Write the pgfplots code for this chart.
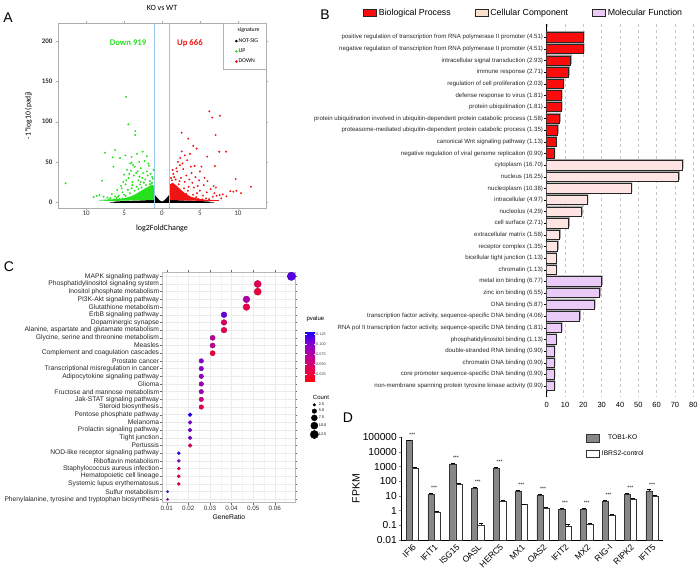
\documentclass[border=0pt]{standalone}
\usepackage{fontspec}
\setmainfont{Liberation Sans}
\newfontfamily\carlito{Carlito}
\usepackage{pgfplots}
\usepackage{pgfplotstable}
\pgfplotsset{compat=1.18}

\newcommand{\fs}[1]{\fontsize{#1}{#1}\selectfont}

\definecolor{vgreen}{RGB}{40,225,30}
\definecolor{vred}{RGB}{240,20,20}
\definecolor{vblue}{RGB}{150,200,240}
\definecolor{bpred}{RGB}{250,12,12}
\definecolor{ccpink}{RGB}{255,228,228}
\definecolor{ccpeach}{RGB}{252,226,204}
\definecolor{mfviolet}{RGB}{234,202,246}
\definecolor{koGrey}{RGB}{135,135,135}

% panel B: GO terms, gene counts
\pgfplotstableread{
i v
0 20
1 20
2 13
3 12
4 9
5 8
6 8
7 7
8 6
9 5
10 4
}\bp
\pgfplotstableread{
i v
11 74
12 72
13 46
14 22
15 19
16 12
17 7
18 6
19 5
20 5
}\cc
\pgfplotstableread{
i v
21 30
22 29
23 26
24 18
25 8
26 5
27 4
28 4
29 4
30 4
}\mf

% panel C: KEGG enrichment (row, gene ratio, pvalue, count)
\pgfplotstableread{
i r p n
0 0.0677 0.115 13
1 0.0521 0.040 10
2 0.0521 0.028 10
3 0.0469 0.080 9
4 0.0469 0.033 9
5 0.0365 0.110 7
6 0.0365 0.045 7
7 0.0365 0.035 7
8 0.03125 0.075 6
9 0.03125 0.070 6
10 0.03125 0.025 6
11 0.0260 0.100 5
12 0.0260 0.100 5
13 0.0260 0.095 5
14 0.0260 0.090 5
15 0.0260 0.090 5
16 0.0260 0.060 5
17 0.0260 0.035 5
18 0.0208 0.130 4
19 0.0208 0.105 4
20 0.0208 0.105 4
21 0.0208 0.105 4
22 0.0208 0.045 4
23 0.0156 0.125 3
24 0.0156 0.095 3
25 0.0156 0.030 3
26 0.0156 0.030 3
27 0.0156 0.030 3
28 0.0104 0.125 2
29 0.0104 0.090 2
}\kegg

\begin{document}
\begin{tikzpicture}
\path[use as bounding box] (0,0) rectangle (700pt,579pt);

% ---------------- A: volcano ----------------
\begin{axis}[
  at={(58pt,371pt)}, anchor=south west, scale only axis,
  width=208pt, height=185pt,
  xmin=-13.7, xmax=13.7, ymin=-7.5, ymax=223,
  xtick={-10,-5,0,5,10}, xticklabels={10,5,0,5,10},
  ytick={0,50,100,150,200}, yticklabels={\textbf{0},\textbf{50},\textbf{100},\textbf{150},\textbf{200}},
  axis line style={gray!65, line width=0.6pt}, tick style={gray!65},
  tick align=outside, major tick length=2pt,
  ticklabel style={font=\carlito\fs{7}, text=black!80},
  xticklabel style={inner sep=1pt},
  title={KO vs WT}, title style={font=\carlito\fs{8}, yshift=3pt},
  xlabel={log2FoldChange}, xlabel style={font=\carlito\fs{8}, yshift=-5pt},
  ylabel={-1*log10 (padj)}, ylabel style={font=\carlito\fs{7.7}, yshift=3pt},
  legend style={at={(1,1)}, anchor=north east, draw=gray!60, fill=white,
    font=\carlito\fs{5.8}, inner xsep=5pt, inner ysep=3.5pt, row sep=2.6pt,
    nodes={inner sep=1.2pt}},
  legend cell align=left,
]
\addplot[fill=black, draw=none, forget plot] coordinates {
 (-7,-0.5) (-6,0.6) (-5,1.2) (-3,1.8) (-1.02,2.6) (-1.02,9.5) (-0.8,7.2) (-0.55,4.5)
 (-0.3,2) (0,0.6) (0.3,2) (0.55,4.5) (0.8,7.2) (1.02,9.5) (1.02,2.6) (3,1.8)
 (5,1.2) (6,0.6) (7,-0.5) (6,-1.2) (-6,-1.2)} -- cycle;
\addplot[fill=vgreen, draw=none, forget plot] coordinates {
 (-1.05,2.2) (-1.05,20) (-1.3,21.5) (-1.8,19) (-2.4,16) (-3,12.5) (-3.6,9) (-4.4,6)
 (-5.2,4.2) (-6.5,3.2) (-8.2,2.6) (-8.3,1.6) (-6,1.4) (-4,1.9) (-2,2.3)} -- cycle;
\addplot[fill=vred, draw=none, forget plot] coordinates {
 (1.05,2.2) (1.05,22) (1.4,24) (1.9,20.5) (2.4,16) (3,11) (3.8,6.5) (4.8,3.8)
 (6,2.6) (7.5,2.2) (7.5,1.4) (5,1.4) (3,1.9) (2,2.2)} -- cycle;
\addplot[only marks, mark=*, mark size=0.75pt, vgreen, forget plot] coordinates {
 (-12.7,23.2) (-4.74,131) (-4.43,96.7) (-3.51,88.4) (-3.55,83.5) (-6.18,64.8) (-7.5,61.4)
 (-2.54,62.6) (-4.83,58) (-5.53,54.8) (-6.5,55.6) (-6.4,44) (-7.9,26.5) (-8.25,8.7)
 (-7.7,6.6) (-7.2,5.5) (-6.8,4.8) (-8.6,7.5) (-9.0,6) (-6.0,5) (-5.6,3.6) (-5.2,4.2)
 (-6.3,3.2) (-7.0,3.0) (-5.8,6.4) (-4.0,49) (-3.8,46) (-4.6,40) (-3.4,36) (-2.97,31.5)
 (-4.2,48) (-3.6,44) (-3.2,38) (-2.8,42) (-2.2,28) (-1.9,33) (-2.6,30) (-3.1,27)
 (-4.4,30) (-5.0,34) (-3.9,25) (-4.8,22) (-5.4,20) (-2.4,24) (-1.6,26) (-1.4,23)
 (-1.2,29) (-2.0,38) (-1.7,45) (-2.3,51) (-3.0,50) (-4.1,39) (-3.7,33) (-2.9,22)
 (-3.3,19) (-4.5,15) (-5.2,12) (-4.0,17) (-3.6,14) (-2.7,18) (-2.1,21) (-1.5,35)
 (-1.1,40) (-1.3,31) (-5.0,9) (-5.7,8) (-4.8,7.5) (-6.2,7) (-4.2,11) (-3.1,16)
 (-2.3,13) (-3.9,21) (-4.7,27) (-5.9,15) (-6.6,10) (-5.3,17) (-3.3,60) (-4.0,56)
 (-2.0,57) (-1.8,48) (-5.1,25) (-4.3,35) (-2.5,36) (-1.3,24) (-1.6,22) (-2.8,25)};
\addplot[only marks, mark=*, mark size=0.75pt, vred, forget plot] coordinates {
 (6.23,113) (6.62,105) (7.63,107.4) (7.06,83.4) (2.59,86.3) (3.46,79) (4.12,70) (4.56,66.5)
 (5.96,56.4) (7.54,62.6) (8.46,62.6) (6.97,44.8) (2.37,46) (5.2,44) (9.7,28.6) (11.7,19)
 (9.4,12.8) (9.8,14) (10.4,11) (9.0,13.5) (7.6,8.7) (6.7,6.6) (8.0,9.5) (7.2,7.8)
 (5.8,4.5) (6.2,3.5) (5.3,3.2) (4.8,4.0) (2.0,38) (2.8,41) (3.2,33) (2.5,30) (1.5,35)
 (1.8,28) (3.6,28) (4.0,24) (3.0,25) (2.2,22) (1.3,27) (1.6,31) (2.7,48) (3.3,52)
 (2.4,55) (3.9,36) (4.4,31) (4.9,27) (5.5,21) (4.2,18) (3.5,19) (2.9,17) (5.0,14)
 (5.9,12) (4.6,11) (6.4,16) (6.8,20) (5.6,30) (3.8,44) (4.3,45) (1.9,42) (2.1,50)
 (1.4,40) (1.2,30) (2.6,63) (3.0,58) (3.7,60) (5.0,38) (6.0,26) (7.1,18) (4.7,20)
 (3.4,14) (2.3,26) (4.1,9) (5.4,8) (6.9,11) (8.5,7) (7.8,4.5) (4.5,6) (3.2,10)};
\addplot[vblue, line width=0.6pt, forget plot] coordinates {(-1,-7.5) (-1,223)};
\addplot[vblue, line width=0.6pt, forget plot] coordinates {(1,-7.5) (1,223)};
\node[font=\carlito\bfseries\fs{8.7}, text=vgreen] at (axis cs:-4.47,198) {Down 919};
\node[font=\carlito\bfseries\fs{8.7}, text=vred] at (axis cs:3.68,198) {Up 666};
\addlegendimage{empty legend}\addlegendentry{\hspace{-1pt}signature}
\addlegendimage{only marks, mark=*, mark size=1.1pt, black}\addlegendentry{NOT-SIG}
\addlegendimage{only marks, mark=*, mark size=1.1pt, vgreen}\addlegendentry{UP}
\addlegendimage{only marks, mark=*, mark size=1.1pt, vred}\addlegendentry{DOWN}
\end{axis}

% ---------------- B: GO bars ----------------
\begin{axis}[
  at={(546.7pt,182.3pt)}, anchor=south west, scale only axis,
  width=146.6pt, height=372.7pt,
  xmin=0, xmax=80, ymin=-1.15, ymax=30.92, y dir=reverse,
  xbar, bar width=9.5pt,
  xtick={0,10,20,30,40,50,60,70,80}, xticklabels={0,10,20,30,40,50,60,70,80},
  ytick={0,...,30},
  yticklabels={
   positive regulation of transcription from RNA polymerase II promoter (4.51),
   negative regulation of transcription from RNA polymerase II promoter (4.51),
   intracellular signal transduction (2.93),
   immune response (2.71),
   regulation of cell proliferation (2.03),
   defense response to virus (1.81),
   protein ubiquitination (1.81),
   protein ubiquitination involved in ubiquitin-dependent protein catabolic process (1.58),
   proteasome-mediated ubiquitin-dependent protein catabolic process (1.35),
   canonical Wnt signaling pathway (1.13),
   negative regulation of viral genome replication (0.90),
   cytoplasm (16.70), nucleus (16.25), nucleoplasm (10.38), intracellular (4.97),
   nucleolus (4.29), cell surface (2.71), extracellular matrix (1.58),
   receptor complex (1.35), bicellular tight junction (1.13), chromatin (1.13),
   metal ion binding (6.77), zinc ion binding (6.55), DNA binding (5.87),
   {transcription factor activity, sequence-specific DNA binding (4.06)},
   {RNA pol II transcription factor activity, sequence-specific DNA binding (1.81)},
   phosphatidylinositol binding (1.13), double-stranded RNA binding (0.90),
   chromatin DNA binding (0.90), core promoter sequence-specific DNA binding (0.90),
   non-membrane spanning protein tyrosine kinase activity (0.90)},
  axis x line*=bottom, axis y line*=left,
  x axis line style={draw=none}, y axis line style={black, line width=0.6pt},
  xtick style={draw=none}, ytick style={black, line width=0.5pt},
  tick align=outside, major tick length=2.5pt,
  xmajorgrids, major grid style={dashed, gray!45, line width=0.4pt},
  yticklabel style={font=\fs{6.1}, text=black!85, inner sep=1pt},
  xticklabel style={font=\fs{7.5}},
  legend style={at={(-1.273,1.051)}, anchor=north west, draw=none, fill=none,
    legend columns=3, font=\fs{8.8},
    /tikz/every even column/.append style={column sep=22pt}},
  legend image code/.code={\draw[#1, line width=0.6pt] (0pt,-3.5pt) rectangle (13pt,4pt);},
]
\addplot[bar shift=1.4pt, fill=gray!70, draw=none, forget plot] table[x expr=\thisrow{v}+0.7, y=i]{\bp};
\addplot[bar shift=1.4pt, fill=gray!70, draw=none, forget plot] table[x expr=\thisrow{v}+0.7, y=i]{\cc};
\addplot[bar shift=1.4pt, fill=gray!70, draw=none, forget plot] table[x expr=\thisrow{v}+0.7, y=i]{\mf};
\addplot[bar shift=0pt, fill=bpred, draw=black!85, line width=0.7pt, forget plot] table[x=v, y=i]{\bp};
\addplot[bar shift=0pt, fill=ccpink, draw=black!85, line width=0.7pt, forget plot] table[x=v, y=i]{\cc};
\addplot[bar shift=0pt, fill=mfviolet, draw=black!85, line width=0.7pt, forget plot] table[x=v, y=i]{\mf};
\addlegendimage{fill=bpred, draw=black!85}\addlegendentry{Biological Process}
\addlegendimage{fill=ccpeach, draw=black!85}\addlegendentry{Cellular Component}
\addlegendimage{fill=mfviolet, draw=black!85}\addlegendentry{Molecular Function}
\end{axis}

% ---------------- C: KEGG dot plot ----------------
\begin{axis}[
  at={(162.3pt,76.3pt)}, anchor=south west, scale only axis,
  width=133pt, height=230.4pt,
  xmin=0.00796, xmax=0.0695, ymin=-0.52, ymax=29.44, y dir=reverse,
  scaled x ticks=false,
  xtick={0.01,0.02,0.03,0.04,0.05,0.06}, xticklabels={0.01,0.02,0.03,0.04,0.05,0.06},
  minor xtick={0.015,0.025,0.035,0.045,0.055,0.065},
  ytick={0,...,29},
  yticklabels={MAPK signaling pathway, Phosphatidylinositol signaling system,
   Inositol phosphate metabolism, PI3K-Akt signaling pathway, Glutathione metabolism,
   ErbB signaling pathway, Dopaminergic synapse,
   {Alanine, aspartate and glutamate metabolism}, {Glycine, serine and threonine metabolism},
   Measles, Complement and coagulation cascades, Prostate cancer,
   Transcriptional misregulation in cancer, Adipocytokine signaling pathway, Glioma,
   Fructose and mannose metabolism, Jak-STAT signaling pathway, Steroid biosynthesis,
   Pentose phosphate pathway, Melanoma, Prolactin signaling pathway, Tight junction,
   Pertussis, NOD-like receptor signaling pathway, Riboflavin metabolism,
   Staphylococcus aureus infection, Hematopoietic cell lineage,
   Systemic lupus erythematosus, Sulfur metabolism,
   {Phenylalanine, tyrosine and tryptophan biosynthesis}},
  xmajorgrids, ymajorgrids, xminorgrids,
  major grid style={gray!16, line width=0.5pt}, minor grid style={gray!9, line width=0.35pt},
  axis line style={gray!55, line width=0.6pt},
  tick style={black!60, line width=0.4pt}, tick align=outside, major tick length=2pt,
  minor tick length=0pt,
  yticklabel style={font=\fs{6.7}, text=black!85, inner xsep=1pt, inner ysep=0pt},
  xticklabel style={font=\fs{6.3}, text=black!80, inner sep=1.5pt},
  xlabel={GeneRatio}, xlabel style={font=\fs{6.8}, yshift=1pt},
  colormap={rb}{rgb255=(255,0,20) rgb255=(228,0,85) rgb255=(190,0,150) rgb255=(135,0,205) rgb255=(20,0,255)},
  point meta min=0.0074, point meta max=0.133,
  colorbar,
  colorbar style={at={(1.073,0.528)}, anchor=south west, scale only axis,
    width=10pt, height=50pt,
    ytick={0.025,0.05,0.075,0.1,0.125}, yticklabels={0.025,0.050,0.075,0.100,0.125},
    yticklabel style={font=\fs{3.8}, text=black!75, inner sep=1pt},
    axis line style={draw=none}, major tick length=1.5pt, ytick style={white},
    title={pvalue}, title style={at={(0,1)}, anchor=south west, xshift=-2pt, font=\fs{6}}},
  legend style={at={(1.055,0.48)}, anchor=north west, draw=none, fill=none,
    font=\fs{3.8}, row sep=1.2pt, nodes={inner sep=0.5pt}},
  legend cell align=left,
]
\addplot[scatter, only marks, mark=*, scatter src=explicit, forget plot,
  visualization depends on={\thisrow{n} \as \cnt},
  scatter/@pre marker code/.append style={/tikz/mark size={-0.9+1.415*sqrt(\cnt)}}]
  table[x=r, y=i, meta=p]{\kegg};
\addlegendimage{empty legend}\addlegendentry{\hspace{-6pt}\fs{6}Count}
\addlegendimage{only marks, mark=*, black, mark size=1.34pt}\addlegendentry{2.5}
\addlegendimage{only marks, mark=*, black, mark size=2.26pt}\addlegendentry{5.0}
\addlegendimage{only marks, mark=*, black, mark size=2.98pt}\addlegendentry{7.5}
\addlegendimage{only marks, mark=*, black, mark size=3.57pt}\addlegendentry{10.0}
\addlegendimage{only marks, mark=*, black, mark size=4.1pt}\addlegendentry{12.5}
\end{axis}

% ---------------- D: FPKM bars ----------------
\begin{axis}[
  at={(401pt,39pt)}, anchor=south west, scale only axis,
  width=262pt, height=102.7pt,
  ybar, bar width=6.3pt, ymode=log, log origin=infty,
  ymin=0.01, ymax=100000, xmin=-0.52, xmax=11.5,
  xtick={0,...,11},
  xticklabels={IFI6,IFIT1,ISG15,OASL,HERC5,MX1,OAS2,IFIT2,MX2,RIG-I,RIPK2,IFIT5},
  ytick={0.01,0.1,1,10,100,1000,10000,100000},
  yticklabels={0.01,0.1,1,10,100,1000,10000,100000},
  yminorticks=false,
  axis x line*=bottom, axis y line*=left, axis line style={line width=0.9pt},
  xtick style={draw=none}, ytick style={line width=0.8pt},
  tick align=outside, major tick length=2.5pt,
  yticklabel style={font=\fs{10.2}, inner sep=1.5pt},
  xticklabel style={font=\fs{8.6}, rotate=45, anchor=north east, inner sep=0.5pt},
  ylabel={FPKM}, ylabel style={font=\fs{10.5}, yshift=-2pt},
  legend style={at={(0.695,1.061)}, anchor=north west, draw=none, fill=none,
    font=\fs{6.7}, row sep=5pt},
  legend image code/.code={\draw[#1, line width=0.6pt] (0pt,-3.7pt) rectangle (13pt,3.7pt);},
  error bars/y dir=plus, error bars/y explicit,
  error bars/error bar style={line width=0.7pt},
  error bars/error mark options={rotate=90, mark size=2pt, line width=0.7pt},
]
\addplot[bar shift=-3.15pt, fill=koGrey, draw=black!80, line width=0.6pt,
  nodes near coords={***}, every node near coord/.append style={font=\fs{5}, xshift=3.15pt, yshift=1pt}]
  coordinates {(0,59000) +- (0,6000) (1,13) +- (0,1.5) (2,1450) +- (0,200) (3,33) +- (0,5)
   (4,780) +- (0,80) (5,22) +- (0,3) (6,11) +- (0,1.5) (7,1.3) +- (0,0.15)
   (8,1.24) +- (0,0.12) (9,4.5) +- (0,0.8) (10,13) +- (0,2.5) (11,22) +- (0,8)};
\addlegendentry{TOB1-KO}
\addplot[bar shift=3.15pt, fill=white, draw=black!80, line width=0.6pt]
  coordinates {(0,780) +- (0,60) (1,0.75) +- (0,0.1) (2,63) +- (0,5) (3,0.1) +- (0,0.04)
   (4,4.5) +- (0,0.6) (5,2.6) +- (0,0.3) (6,1.45) +- (0,0.15) (7,0.085) +- (0,0.025)
   (8,0.125) +- (0,0.015) (9,0.46) +- (0,0.08) (10,6.2) +- (0,0.8) (11,9.3) +- (0,1.2)};
\addlegendentry{IBRS2-control}
\end{axis}

\node[font=\fs{14}] at (8pt,561.5pt) {A};
\node[font=\fs{14}] at (325pt,564pt) {B};
\node[font=\fs{14}] at (9pt,312pt) {C};
\node[font=\fs{14}] at (348pt,161.5pt) {D};
\end{tikzpicture}
\end{document}
